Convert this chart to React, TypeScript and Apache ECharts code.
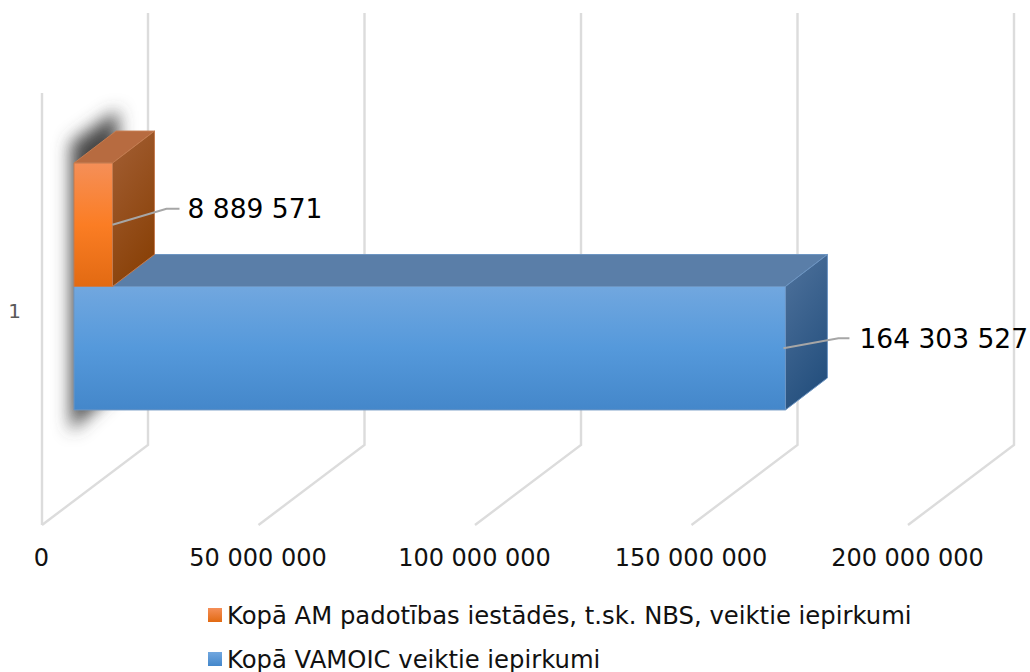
import React, { useEffect, useRef } from "react";
import * as echarts from "echarts";

const categories = ["1"];
const seriesNames = [
  "Kopā AM padotības iestādēs, t.sk. NBS, veiktie iepirkumi",
  "Kopā VAMOIC veiktie iepirkumi",
];
const orangeValues = [8889571];
const blueValues = [164303527];
const xTicks = [0, 50000000, 100000000, 150000000, 200000000];

const FONT = "'DejaVu Sans', Verdana, sans-serif";
const fmt = (v: number) => String(v).replace(/\B(?=(\d{3})+(?!\d))/g, " ");
const grad = (x2: number, y2: number, stops: [number, string][]) =>
  new echarts.graphic.LinearGradient(
    0, 0, x2, y2,
    stops.map(([offset, color]) => ({ offset, color }))
  );

// Depth of the 3D box, in pixels
const WALL_DX = 106, WALL_DY = -80;
const FRONT_DX = 32, FRONT_DY = -22.5;
const BAR_DX = 42, BAR_DY = -32;
// The category label sits a little below the middle of the 3D box
const LABEL_DROP = 2;

const frameOf = (api: any) => {
  const c = api.coord([0, 0]);
  const band = api.size([0, 1])[1];
  const barH = band / 3.5;
  const cy = c[1] - LABEL_DROP;
  const mid = cy + FRONT_DY;
  return { x0: c[0], cy, band, barH, mid };
};

const renderWalls = (_p: any, api: any) => {
  const tick = api.value(0);
  const f = frameOf(api);
  const x = api.coord([tick, 0])[0];
  const yFront = f.cy + f.band / 2;
  const yFrontTop = f.cy - f.band / 2;
  const lineStyle = { stroke: "#dcdcdc", lineWidth: 2.4, fill: "none" };
  const children: any[] = [
    {
      type: "polyline",
      shape: {
        points: [
          [x, yFront],
          [x + WALL_DX, yFront + WALL_DY],
          [x + WALL_DX, yFrontTop + WALL_DY],
        ],
      },
      style: lineStyle,
    },
  ];
  if (tick === 0) {
    children.push({
      type: "line",
      shape: { x1: x, y1: yFront, x2: x, y2: yFrontTop },
      style: lineStyle,
    });
  }
  return { type: "group", children };
};

// Blurred drop shadow: the casting shape sits off-canvas and only its shadow falls in view.
const renderShadow = (_p: any, api: any) => {
  const f = frameOf(api);
  const left = f.x0 + FRONT_DX;
  const top = f.mid - f.barH;
  const bottom = f.mid + f.barH;
  const shift = 400;
  const A: [number, number] = [left - 3 - shift, top - 20];
  const far = -1000;
  return {
    type: "polygon",
    shape: {
      points: [
        A,
        [left + 44 - shift, top - 53],
        [left + 44 - shift, bottom - 23],
        [left - 3 - shift, bottom + 21],
        A,
        [far, top - 20],
        [far, top - 19],
        [far - 1, top - 19],
        [far, top - 20],
      ],
    },
    style: {
      fill: "#111111",
      shadowColor: "#474747",
      shadowBlur: 17,
      shadowOffsetX: shift,
      shadowOffsetY: 0,
    },
  };
};

const makeBar = (
  index: number,
  front: any,
  side: any,
  topFace: string,
  edge: string,
  leader: [number, number, number, number, number]
) => (_p: any, api: any) => {
  const value = api.value(0);
  const f = frameOf(api);
  const xl = f.x0 + FRONT_DX;
  const xr = api.coord([value, 0])[0] + FRONT_DX;
  const yt = f.mid - f.barH + index * f.barH;
  const yb = yt + f.barH;
  const stroke = { stroke: edge, lineWidth: 1 };
  const [lx0, ldx, ldy, lrun, gap] = leader;
  const sy = (yt + yb) / 2;
  const sx = xr + lx0;
  return {
    type: "group",
    children: [
      {
        type: "polygon",
        shape: { points: [[xl, yt], [xr, yt], [xr + BAR_DX, yt + BAR_DY], [xl + BAR_DX, yt + BAR_DY]] },
        style: { fill: topFace, ...stroke },
      },
      {
        type: "polygon",
        shape: { points: [[xr, yt], [xr + BAR_DX, yt + BAR_DY], [xr + BAR_DX, yb + BAR_DY], [xr, yb]] },
        style: { fill: side, ...stroke },
      },
      {
        type: "rect",
        shape: { x: xl, y: yt, width: xr - xl, height: f.barH },
        style: { fill: front, ...stroke },
      },
      {
        type: "polyline",
        shape: { points: [[sx, sy], [sx + ldx, sy + ldy], [sx + ldx + lrun, sy + ldy]] },
        style: { stroke: "#a6a6a6", lineWidth: 2, fill: "none" },
      },
      {
        type: "text",
        x: sx + ldx + lrun + gap,
        y: sy + ldy,
        style: {
          text: fmt(value),
          fill: "#000000",
          font: `26.5px ${FONT}`,
          textAlign: "left",
          textVerticalAlign: "middle",
        },
      },
    ],
  };
};

const orangeFront = grad(0, 1, [[0, "#f58f58"], [0.5, "#fb7d24"], [1, "#e26a12"]]);
const orangeSide = grad(0.4, 1, [[0, "#a35f35"], [1, "#8a4209"]]);
const blueFront = grad(0, 1, [[0, "#71a7df"], [0.5, "#5599db"], [1, "#4487ca"]]);
const blueSide = grad(0.4, 1, [[0, "#4f729c"], [1, "#26517f"]]);

const legendBase = {
  orient: "horizontal",
  left: 208,
  padding: 0,
  icon: "rect",
  itemWidth: 14,
  itemHeight: 14,
  selectedMode: false,
  textStyle: { color: "#111111", fontFamily: FONT, fontSize: 24.3 },
};

export default function App() {
  const ref = useRef<HTMLDivElement>(null);
  useEffect(() => {
    document.body.style.margin = "0";
    const chart = echarts.init(ref.current!, undefined, { renderer: "svg" });
    chart.setOption({
      animation: false,
      backgroundColor: "#ffffff",
      grid: { left: 42, right: 122, top: 93 + LABEL_DROP, bottom: 147 - LABEL_DROP, containLabel: false },
      xAxis: {
        type: "value",
        min: 0,
        max: 200000000,
        interval: 50000000,
        axisLine: { show: false },
        axisTick: { show: false },
        splitLine: { show: false },
        axisLabel: {
          formatter: (v: number) => fmt(v),
          color: "#111111",
          fontFamily: FONT,
          fontSize: 24,
          margin: 19,
          padding: [0, 1, 0, 0],
        },
      },
      yAxis: {
        type: "category",
        data: categories,
        axisLine: { show: false },
        axisTick: { show: false },
        splitLine: { show: false },
        axisLabel: { color: "#595959", fontFamily: FONT, fontSize: 20, margin: 21 },
      },
      legend: [
        { ...legendBase, top: 603, data: [seriesNames[0]] },
        { ...legendBase, top: 647, data: [seriesNames[1]] },
      ],
      series: [
        {
          type: "custom",
          name: "walls",
          coordinateSystem: "cartesian2d",
          renderItem: renderWalls,
          encode: { x: 0 },
          data: xTicks.map((t) => [t, 0]),
          silent: true,
        },
        {
          type: "custom",
          name: "shadow",
          coordinateSystem: "cartesian2d",
          renderItem: renderShadow,
          encode: { x: 0 },
          data: [[0, 0]],
          silent: true,
        },
        {
          type: "custom",
          name: seriesNames[1],
          coordinateSystem: "cartesian2d",
          renderItem: makeBar(1, blueFront, blueSide, "#5a7ea8", "#6d95c2", [-2, 55, -10, 11, 10]),
          encode: { x: 0, y: 1 },
          itemStyle: { color: grad(0, 1, [[0, "#71a7df"], [1, "#4487ca"]]) },
          data: blueValues.map((v, i) => [v, i]),
        },
        {
          type: "custom",
          name: seriesNames[0],
          coordinateSystem: "cartesian2d",
          renderItem: makeBar(0, orangeFront, orangeSide, "#b76b40", "#c47c50", [0, 54, -16, 13, 8]),
          encode: { x: 0, y: 1 },
          itemStyle: { color: grad(0, 1, [[0, "#f58f58"], [1, "#e26a12"]]) },
          data: orangeValues.map((v, i) => [v, i]),
        },
      ],
    });
    return () => chart.dispose();
  }, []);
  return <div ref={ref} style={{ width: 1030, height: 672 }} />;
}
